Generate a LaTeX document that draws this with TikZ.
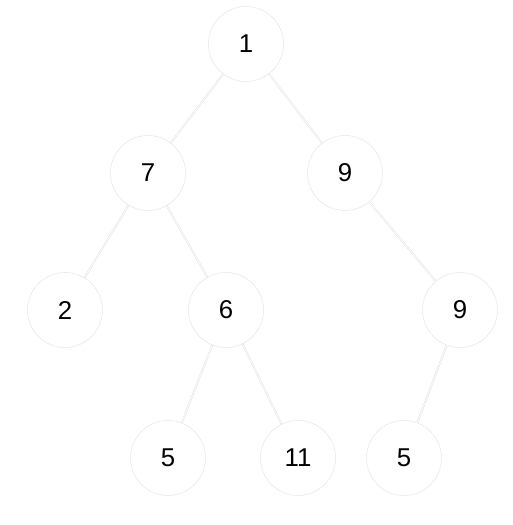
\documentclass[tikz,border=0pt]{standalone}
\usepackage{fontspec}
\setmainfont{Liberation Sans}

\tikzstyle{vert}=[circle, minimum size=2.25cm, inner sep=0pt, draw=gray!22, line width=0.4pt, font=\fontsize{22}{26}\selectfont]
\tikzstyle{edge}=[draw=gray!28, line width=0.35pt, double=white, double distance=0.7pt]

\begin{document}
\begin{tikzpicture}[x=0.03cm, y=-0.03cm]
      \useasboundingbox (0, 0) rectangle (513, 525);
      \node[vert] (a) at (246, 44)  {1};
      \node[vert] (b) at (148, 173) {7};
      \node[vert] (c) at (345, 173) {9};
      \node[vert] (d) at (65, 310)  {2};
      \node[vert] (e) at (226, 310) {6};
      \node[vert] (f) at (460, 310) {9};
      \node[vert] (g) at (168, 458) {5};
      \node[vert] (h) at (298, 458) {11};
      \node[vert] (i) at (404, 458) {5};
      \draw[edge] (a) -- (b);
      \draw[edge] (a) -- (c);
      \draw[edge] (b) -- (d);
      \draw[edge] (b) -- (e);
      \draw[edge] (c) -- (f);
      \draw[edge] (e) -- (g);
      \draw[edge] (e) -- (h);
      \draw[edge] (f) -- (i);
    \end{tikzpicture}
\end{document}
